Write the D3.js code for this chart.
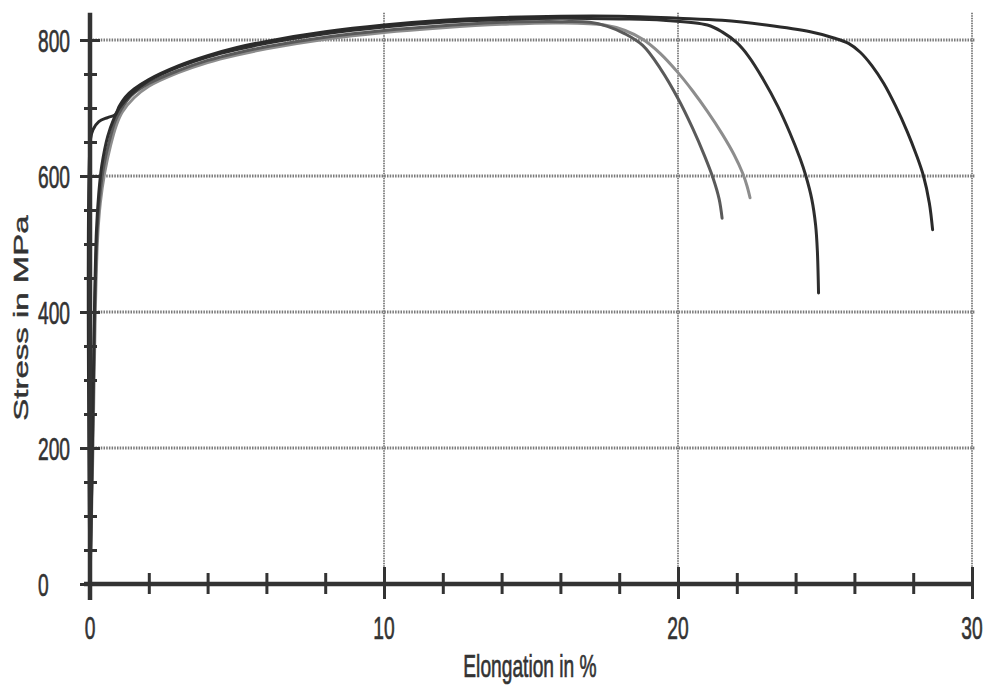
<!DOCTYPE html>
<html>
<head>
<meta charset="utf-8">
<script src="https://cdn.jsdelivr.net/npm/d3@7"></script>
<style>
  html, body { margin: 0; padding: 0; background: #fff; }
  svg { display: block; }
  text { font-family: "Liberation Sans", Arial, sans-serif; fill: #333; stroke: #333; stroke-width: 0.7; }
</style>
</head>
<body>
<svg id="chart" width="987" height="698"></svg>
<script>
// Tensile test results: engineering stress vs. elongation for four specimens.

// Specimen A (fractures at about 21.5 %)
const strainA = [0, 0.08, 0.16, 0.24, 0.32, 0.45, 0.65, 0.85, 1.05, 1.4, 2, 3, 4, 5, 6, 8, 10, 12, 14, 16, 17.0, 17.6, 18.2, 18.8, 19.4, 20.0, 20.5, 20.9, 21.2, 21.4, 21.5];
const stressA = [0, 200, 400, 515, 565, 610, 650, 680, 697, 718, 736, 755, 770, 781, 790, 804, 814, 821, 826, 827, 826, 820, 809, 792, 758, 714, 670, 630, 596, 566, 538];

// Specimen B (fractures at about 22.4 %)
const strainB = [0, 0.1, 0.18, 0.26, 0.35, 0.5, 0.7, 0.9, 1.1, 1.5, 2, 3, 4, 5, 6, 8, 10, 12, 14, 16, 17.5, 18.2, 18.8, 19.4, 20.0, 20.5, 21.0, 21.5, 21.9, 22.2, 22.35, 22.45];
const stressB = [0, 200, 400, 510, 560, 605, 645, 675, 694, 715, 732, 752, 767, 778, 787, 801, 811, 818, 823, 825, 822, 814, 801, 780, 752, 725, 695, 662, 632, 604, 585, 568];

// Specimen C (fractures at about 24.8 %)
const strainC = [0, 0.08, 0.15, 0.22, 0.3, 0.4, 0.6, 0.8, 1.0, 1.4, 2, 3, 4, 5, 6, 8, 10, 12, 14, 16, 18, 19.5, 21.0, 21.5, 22.0, 22.4, 22.9, 23.4, 23.8, 24.15, 24.35, 24.55, 24.68, 24.74, 24.78];
const stressC = [0, 200, 400, 520, 575, 615, 658, 683, 700, 720, 740, 760, 775, 786, 795, 809, 819, 826, 830, 832, 831, 829, 822, 812, 796, 776, 742, 702, 664, 626, 600, 566, 528, 490, 428];

// Specimen D, with upper yield point (fractures at about 28.6 %)
const strainD = [0, 0.02, 0.1, 0.3, 0.6, 0.85, 1.0, 1.2, 1.5, 2, 3, 4, 5, 6, 8, 10, 12, 14, 16, 18, 20, 21.5, 23, 24.5, 25.3, 25.8, 26.2, 26.6, 27.0, 27.4, 27.8, 28.1, 28.35, 28.55, 28.66];
const stressD = [0, 655, 668, 680, 686, 690, 703, 716, 728, 742, 762, 777, 789, 798, 812, 822, 829, 833, 835, 835, 832, 829, 822, 812, 803, 795, 782, 762, 736, 703, 665, 632, 600, 560, 521];

// Axis ticks and labels
const xMinorTicks = [0, 2, 4, 6, 8, 10, 12, 14, 16, 18, 20, 22, 24, 26, 28, 30];
const xLabels = [0, 10, 20, 30];
const yMinorTicks = [0, 50, 100, 150, 200, 250, 300, 350, 400, 450, 500, 550, 600, 650, 700, 750, 800];
const yLabels = [0, 200, 400, 600, 800];
const xTitle = "Elongation in %";
const yTitle = "Stress in MPa";

const specimens = [
  { name: "B", strain: strainB, stress: stressB, color: "#8d8d8d" },
  { name: "A", strain: strainA, stress: stressA, color: "#5a5a5a" },
  { name: "C", strain: strainC, stress: stressC, color: "#2e2e2e" },
  { name: "D", strain: strainD, stress: stressD, color: "#2a2a2a" }
];

const svg = d3.select("#chart");
const x = d3.scaleLinear().domain([0, 30]).range([90, 972]);
const y = d3.scaleLinear().domain([0, 840]).range([584, 12.8]);

// Horizontal dotted grid lines
svg.append("g").selectAll("line").data(yLabels.filter(d => d > 0)).join("line")
  .attr("x1", x(0)).attr("x2", x(30) + 3)
  .attr("y1", d => y(d)).attr("y2", d => y(d))
  .attr("stroke", "#7a7a7a").attr("stroke-width", 3)
  .attr("stroke-dasharray", "1.5,1.2");

// Vertical dotted grid lines
svg.append("g").selectAll("line").data(xLabels.filter(d => d > 0)).join("line")
  .attr("x1", d => x(d)).attr("x2", d => x(d))
  .attr("y1", y(840)).attr("y2", y(0))
  .attr("stroke", "#666").attr("stroke-width", 1.6)
  .attr("stroke-dasharray", "1.5,1");

// Stress–strain curves
const line = d3.line()
  .x(d => x(d[0]))
  .y(d => y(d[1]))
  .curve(d3.curveCatmullRom.alpha(0.5));

svg.append("g").selectAll("path").data(specimens).join("path")
  .attr("d", s => line(s.strain.map((e, i) => [e, s.stress[i]])))
  .attr("fill", "none")
  .attr("stroke", s => s.color)
  .attr("stroke-width", 3)
  .attr("stroke-linejoin", "round")
  .attr("stroke-linecap", "round");

// X axis
const xAxis = d3.axisBottom(x).tickValues(xMinorTicks).tickFormat("").tickSizeOuter(0);
const gx = svg.append("g").attr("transform", `translate(0,${y(0)})`).call(xAxis);
gx.select(".domain").attr("d", `M${x(0) - 6},0H${x(30)}`)
  .attr("stroke", "#333").attr("stroke-width", 4.5);
gx.selectAll(".tick line")
  .attr("y1", d => xLabels.includes(d) ? (d === 0 ? 0 : -17) : -11)
  .attr("y2", d => xLabels.includes(d) ? 15 : 10)
  .attr("stroke", "#333").attr("stroke-width", 3);

// Y axis
const yAxis = d3.axisLeft(y).tickValues(yMinorTicks).tickFormat("").tickSizeOuter(0);
const gy = svg.append("g").attr("transform", `translate(${x(0)},0)`).call(yAxis);
gy.select(".domain").attr("d", `M0,${y(0) + 16}V${y(840)}`)
  .attr("stroke", "#333").attr("stroke-width", 4.5);
gy.selectAll(".tick line")
  .attr("x1", d => yLabels.includes(d) ? -10 : -6)
  .attr("x2", d => yLabels.includes(d) ? 10 : 7)
  .attr("stroke", "#333").attr("stroke-width", 3);

// Tick labels (condensed type)
const fontSize = 32, squeeze = 0.6;
svg.append("g").selectAll("text").data(xLabels).join("text")
  .attr("transform", d => `translate(${x(d)},639) scale(${squeeze},1)`)
  .attr("text-anchor", "middle")
  .attr("font-size", fontSize)
  .text(d => d);

svg.append("g").selectAll("text").data(yLabels).join("text")
  .attr("transform", d => `translate(38,${y(d) + 12}) scale(${squeeze},1)`)
  .attr("text-anchor", "start")
  .attr("font-size", fontSize)
  .text(d => d);

// Axis titles
svg.append("text")
  .attr("transform", `translate(${(x(0) + x(30)) / 2 - 1},677) scale(${squeeze},1)`)
  .attr("text-anchor", "middle")
  .attr("font-size", fontSize)
  .text(xTitle);

svg.append("text")
  .attr("transform", `translate(28,${y(400) + 6}) scale(${squeeze},1) rotate(-90)`)
  .attr("text-anchor", "middle")
  .attr("font-size", 33)
  .text(yTitle);
</script>
</body>
</html>
